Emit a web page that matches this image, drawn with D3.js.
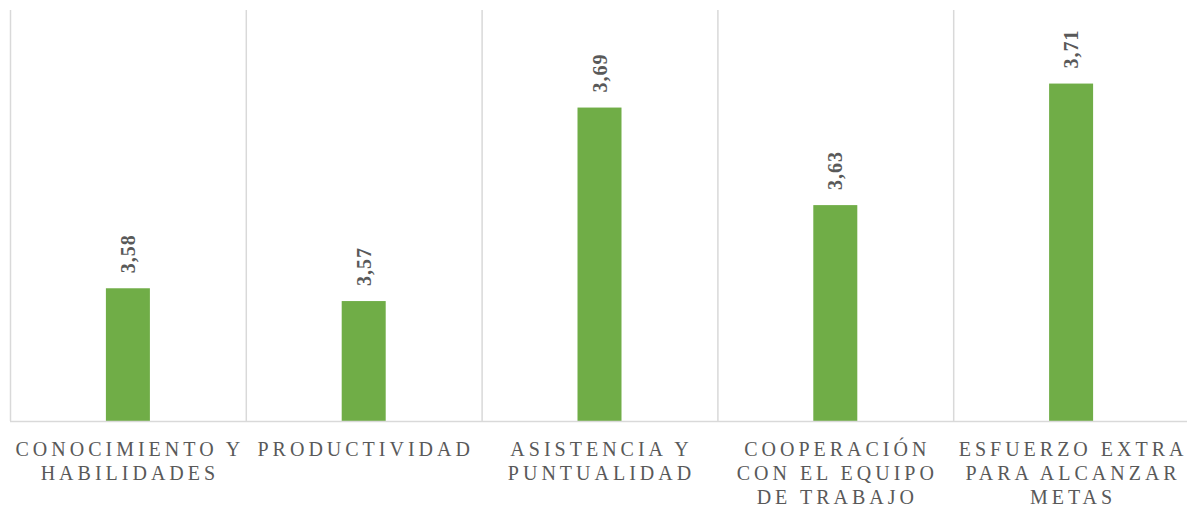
<!DOCTYPE html>
<html><head><meta charset="utf-8">
<script src="https://cdn.jsdelivr.net/npm/d3@7"></script>
<style>body{margin:0;background:#fff}svg{display:block}</style>
</head><body>
<svg id="c" width="1187" height="507"></svg>
<script>
const categories = ["CONOCIMIENTO Y HABILIDADES","PRODUCTIVIDAD","ASISTENCIA Y PUNTUALIDAD","COOPERACIÓN CON EL EQUIPO DE TRABAJO","ESFUERZO EXTRA PARA ALCANZAR METAS"];
const values = [3.580, 3.572, 3.693, 3.632, 3.708];
const valueLabels = ["3,58","3,57","3,69","3,63","3,71"];

const svg = d3.select("#c");
const plotLeft = 10, plotRight = 1189, plotTop = 10, plotBottom = 421;
const x = d3.scaleBand().domain(categories).range([plotLeft, plotRight]).paddingInner(0).paddingOuter(0);
const y = d3.scaleLinear().domain([3.497, 3.754]).range([plotBottom, plotTop]);

// vertical gridlines at band edges
const edges = categories.map(c => x(c)).concat([plotRight]);
svg.append("g").selectAll("line").data(edges).join("line")
  .attr("x1", d => d + 0.5).attr("x2", d => d + 0.5)
  .attr("y1", plotTop).attr("y2", plotBottom)
  .attr("stroke", "#d9d9d9").attr("stroke-width", 1.5);

const barW = 44;
svg.append("g").selectAll("rect").data(values).join("rect")
  .attr("x", (d,i) => x(categories[i]) + x.bandwidth()/2 - barW/2)
  .attr("y", d => y(d))
  .attr("width", barW)
  .attr("height", d => plotBottom - y(d))
  .attr("fill", "#70ad47");

// baseline
svg.append("line").attr("x1", plotLeft).attr("x2", plotRight).attr("y1", plotBottom + 0.5).attr("y2", plotBottom + 0.5)
  .attr("stroke", "#d9d9d9").attr("stroke-width", 1.5);

// value labels
svg.append("g").selectAll("text").data(values).join("text")
  .attr("transform", (d,i) => `translate(${x(categories[i]) + x.bandwidth()/2},${y(d) - 15}) rotate(-90)`)
  .attr("text-anchor", "start")
  .attr("dominant-baseline", "central")
  .attr("font-family", "'Liberation Serif','Times New Roman',serif")
  .attr("font-weight", "bold")
  .attr("font-size", 20)
  .attr("letter-spacing", "1px")
  .attr("fill", "#595959")
  .text((d,i) => valueLabels[i]);

// category labels with wrapping
const ls = 4;
const lab = svg.append("g").attr("font-family", "'Liberation Serif','Times New Roman',serif")
  .attr("font-size", 20).attr("fill", "#595959").attr("letter-spacing", ls + "px");
categories.forEach(c => {
  const cx = x(c) + x.bandwidth()/2;
  const t = lab.append("text").attr("text-anchor", "middle");
  const words = c.split(" ");
  let lines = [], cur = [];
  const meas = lab.append("text");
  words.forEach(w => {
    const test = cur.concat([w]).join(" ");
    meas.text(test);
    if (meas.node().getComputedTextLength() - ls > x.bandwidth() - 4 && cur.length) {
      lines.push(cur.join(" ")); cur = [w];
    } else cur.push(w);
  });
  lines.push(cur.join(" "));
  meas.remove();
  lines.forEach((l, i) => {
    t.append("tspan").attr("x", cx + ls/2).attr("y", 456 + i * 24).text(l);
  });
});
</script>
</body></html>
